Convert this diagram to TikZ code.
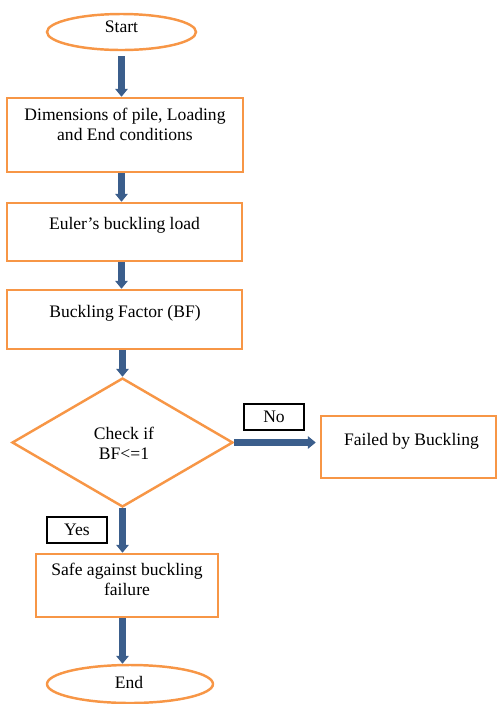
\documentclass[tikz,border=0pt]{standalone}
\usepackage{fontspec}
\setmainfont{Liberation Serif}
\usetikzlibrary{shapes.geometric,arrows.meta}
\definecolor{boxorange}{RGB}{247,150,70}
\definecolor{flowblue}{RGB}{59,94,140}
\tikzset{
  flowbox/.style={draw=boxorange, line width=1.4pt, rectangle, inner sep=0pt},
  terminal/.style={draw=boxorange, line width=1.4pt, ellipse, inner sep=0pt},
  decision/.style={draw=boxorange, line width=1.4pt, diamond, inner sep=0pt},
  tagbox/.style={draw=black, line width=0.8pt, rectangle, inner sep=0pt},
  flowtext/.style={align=center, inner sep=0pt},
  flowarrow/.style={draw=flowblue, line width=3.6pt, -{Triangle[width=7pt,length=4.5pt]}}
}

\begin{document}
\begin{tikzpicture}[x=0.02cm, y=-0.02cm, every node/.style={font=\fontsize{10}{11.4}\selectfont}]
            \useasboundingbox (0,0) rectangle (497,704);
            % Draw shapes
            \node[terminal, minimum width=2.98cm, minimum height=0.72cm] (start) at (121.5,32) {};
            \node[flowbox, minimum width=4.72cm, minimum height=1.48cm] (dims) at (125,135) {};
            \node[flowbox, minimum width=4.7cm, minimum height=1.16cm] (euler) at (124.5,232) {};
            \node[flowbox, minimum width=4.7cm, minimum height=1.18cm] (bfactor) at (124.5,319.5) {};
            \node[decision, minimum width=4.42cm, minimum height=2.58cm] (check) at (122.5,442.5) {};
            \node[flowbox, minimum width=3.5cm, minimum height=1.24cm] (failed) at (408.5,447) {};
            \node[flowbox, minimum width=3.64cm, minimum height=1.26cm] (safe) at (127,585.5) {};
            \node[terminal, minimum width=3.32cm, minimum height=0.76cm] (finish) at (130,684) {};
            % Label values
            \node[flowtext] (starttext) at (121.5,27) {Start};
            \node[flowtext] (dimstext) at (125,124) {Dimensions of pile, Loading\\and End conditions};
            \node[flowtext] (eulertext) at (124.5,225) {Euler’s buckling load};
            \node[flowtext] (bfactortext) at (125,313) {Buckling Factor (BF)};
            \node[flowtext] (checktext) at (124,443) {Check if\\BF<=1};
            \node[flowtext] (failedtext) at (411.5,441) {Failed by Buckling};
            \node[flowtext] (safetext) at (127,579) {Safe against buckling\\failure};
            \node[flowtext] (finishtext) at (129,682) {End};
            % Branch tags
            \node[tagbox, minimum width=1.2cm, minimum height=0.52cm] (notag) at (274,417) {No};
            \node[tagbox, minimum width=1.2cm, minimum height=0.52cm] (yestag) at (77,530) {Yes};
            % Draw arrows
            \draw[flowarrow, shorten <=0.1cm] (start.south) -- (start.south |- dims.north);
            \draw[flowarrow] (dims.south -| start.south) -- (euler.north -| start.south);
            \draw[flowarrow] (euler.south -| start.south) -- (bfactor.north -| start.south);
            \draw[flowarrow] (bfactor.south -| check.north) -- (check.north);
            \draw[flowarrow, shorten >=0.08cm] (check.east) -- (check.east -| failed.west);
            \draw[flowarrow] (check.south) -- (check.south |- safe.north);
            \draw[flowarrow] (safe.south -| check.south) -- (check.south |- finish.north);
        \end{tikzpicture}
\end{document}
